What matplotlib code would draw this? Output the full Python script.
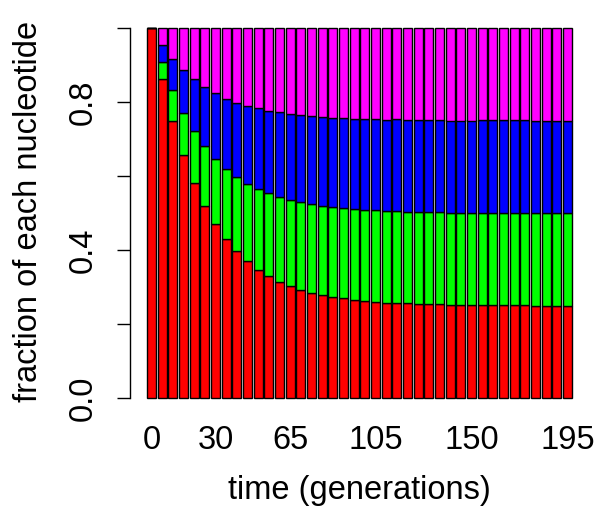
import matplotlib
matplotlib.use("Agg")
import matplotlib.pyplot as plt

plt.rcParams['font.family'] = ['Liberation Sans', 'DejaVu Sans']

# time points (generations)
times = list(range(0, 200, 5))
# fraction of the starting nucleotide (red)
frac_red = [1.000, 0.861, 0.748, 0.656, 0.581, 0.520, 0.470, 0.429, 0.396, 0.369,
            0.347, 0.329, 0.314, 0.303, 0.293, 0.285, 0.278, 0.273, 0.269, 0.265,
            0.263, 0.260, 0.258, 0.257, 0.256, 0.255, 0.254, 0.253, 0.252, 0.252,
            0.252, 0.251, 0.251, 0.251, 0.251, 0.251, 0.250, 0.250, 0.250, 0.250]
frac_green = [0.000, 0.046, 0.084, 0.115, 0.140, 0.160, 0.177, 0.190, 0.201, 0.210,
              0.218, 0.224, 0.229, 0.232, 0.236, 0.238, 0.241, 0.242, 0.244, 0.245,
              0.246, 0.247, 0.247, 0.248, 0.248, 0.248, 0.249, 0.249, 0.249, 0.249,
              0.249, 0.250, 0.250, 0.250, 0.250, 0.250, 0.250, 0.250, 0.250, 0.250]
frac_blue = [0.000, 0.046, 0.084, 0.115, 0.140, 0.160, 0.177, 0.190, 0.201, 0.210,
             0.218, 0.224, 0.229, 0.232, 0.236, 0.238, 0.241, 0.242, 0.244, 0.245,
             0.246, 0.247, 0.247, 0.248, 0.248, 0.248, 0.249, 0.249, 0.249, 0.249,
             0.249, 0.250, 0.250, 0.250, 0.250, 0.250, 0.250, 0.250, 0.250, 0.250]
frac_magenta = [0.000, 0.046, 0.084, 0.115, 0.140, 0.160, 0.177, 0.190, 0.201, 0.210,
                0.218, 0.224, 0.229, 0.232, 0.236, 0.238, 0.241, 0.242, 0.244, 0.245,
                0.246, 0.247, 0.247, 0.248, 0.248, 0.248, 0.249, 0.249, 0.249, 0.249,
                0.249, 0.250, 0.250, 0.250, 0.250, 0.250, 0.250, 0.250, 0.250, 0.250]
shown_labels = [0, 30, 65, 105, 150, 195]
ytick_vals = [0.0, 0.2, 0.4, 0.6, 0.8, 1.0]
ytick_labels = ['0.0', '', '0.4', '', '0.8', '']

W, H = 598, 518
fig = plt.figure(figsize=(W / 100, H / 100), dpi=100)
ax = fig.add_axes([130 / W, 1 - 412.8 / H, (589 - 130) / W, (412.8 - 13.2) / H])

n = len(times)
xs = [0.7 + 1.2 * i for i in range(n)]
bottom = [0.0] * n
for vals, col in [(frac_red, '#FF0000'), (frac_green, '#00FF00'),
                  (frac_blue, '#0000FF'), (frac_magenta, '#FF00FF')]:
    ax.bar(xs, vals, width=1.0, bottom=bottom, color=col,
           edgecolor='black', linewidth=1.0)
    bottom = [b + v for b, v in zip(bottom, vals)]

ax.set_xlim(-1.712, 49.912)
ax.set_ylim(-0.04, 1.04)

for s in ['top', 'right', 'bottom']:
    ax.spines[s].set_visible(False)
ax.spines['left'].set_bounds(0, 1)
ax.spines['left'].set_linewidth(1.0)

fs = 23.5
tick_pos = [xs[times.index(t)] for t in shown_labels]
ax.set_xticks(tick_pos)
ax.set_xticklabels([str(t) for t in shown_labels], fontsize=fs)
ax.tick_params(axis='x', length=0, pad=9)

ax.set_yticks(ytick_vals)
ax.set_yticklabels(ytick_labels, fontsize=fs, rotation=90, va='center')
ax.tick_params(axis='y', length=9.4, width=1.0, pad=13)

fig.text(29 / W, 1 - 211 / H, 'fraction of each nucleotide', rotation=90,
         ha='center', va='center', fontsize=fs)
fig.text(359.5 / W, 1 - 490 / H, 'time (generations)', ha='center',
         va='center', fontsize=fs)

fig.savefig('out.png', dpi=100)
